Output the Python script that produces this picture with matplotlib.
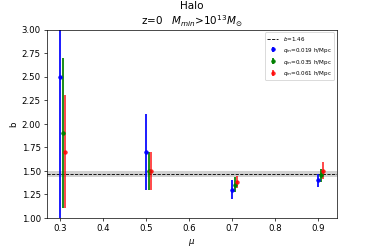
import numpy as np
import matplotlib
matplotlib.use('Agg')
import matplotlib.pyplot as plt

mu = np.array([0.3, 0.5, 0.7, 0.9])
offsets = [0.0, 0.006, 0.012]

# b values and errors for each q_m
b_q1 = [2.5, 1.7, 1.30, 1.40]
err_q1 = [1.5, 0.4, 0.10, 0.07]
b_q2 = [1.9, 1.5, 1.35, 1.45]
err_q2 = [0.8, 0.2, 0.08, 0.07]
b_q3 = [1.7, 1.5, 1.38, 1.50]
err_q3 = [0.6, 0.2, 0.06, 0.09]

labels = [r'$q_m$=0.019 h/Mpc', r'$q_m$=0.035 h/Mpc', r'$q_m$=0.061 h/Mpc']
colors = ['b', 'g', 'r']

b_fit = 1.465
b_fit_err = 0.035

fig = plt.figure(figsize=(6, 4), dpi=374/6)
fig.subplots_adjust(bottom=0.125, top=0.88)
ax = fig.add_subplot(111)

ax.axhline(b_fit, color='k', ls='--', lw=1, label=r'$b$=1.46')
ax.axhspan(b_fit - b_fit_err, b_fit + b_fit_err, color='grey', alpha=0.35, lw=0)

for i, (bb, ee) in enumerate([(b_q1, err_q1), (b_q2, err_q2), (b_q3, err_q3)]):
    ax.errorbar(mu + offsets[i], bb, yerr=ee, fmt='o', color=colors[i], ms=4,
                elinewidth=2, alpha=0.8 if i == 2 else 1, label=labels[i])

ax.set_ylim(1.0, 3.0)
ax.set_xlabel(r'$\mu$')
ax.set_ylabel('b')
ax.set_title('Halo\n' + r'z=0   $M_{min}$>$10^{13}M_{\odot}$')
ax.legend(loc='upper right', fontsize=6.5)

fig.savefig('out.png')
